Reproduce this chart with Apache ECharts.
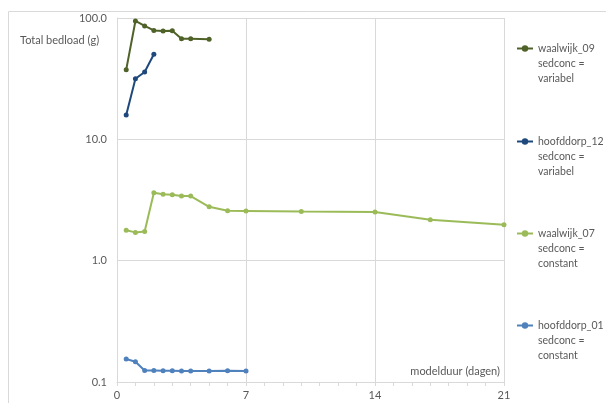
<!DOCTYPE html>
<html>
<head>
<meta charset="utf-8">
<script src="https://cdn.jsdelivr.net/npm/echarts@6/dist/echarts.min.js"></script>
<style>html,body{margin:0;padding:0;background:#fff;}#c{width:606px;height:403px;}</style>
</head>
<body>
<div id="c"></div>
<script>
const xTicks = [0, 7, 14, 21];
const yTicks = [0.1, 1, 10, 100];

const names = ['waalwijk_09\nsedconc =\nvariabel', 'hoofddorp_12\nsedconc =\nvariabel', 'waalwijk_07\nsedconc =\nconstant', 'hoofddorp_01\nsedconc =\nconstant'];

const w09Days = [0.5, 1, 1.5, 2, 2.5, 3, 3.5, 4, 5];
const w09Vals = [37.5, 94.5, 86, 79, 78, 78.5, 67.5, 67.5, 66.7];

const h12Days = [0.5, 1, 1.5, 2];
const h12Vals = [15.9, 31.6, 35.9, 50.2];

const w07Days = [0.5, 1, 1.5, 2, 2.5, 3, 3.5, 4, 5, 6, 7, 10, 14, 17, 21];
const w07Vals = [1.78, 1.71, 1.74, 3.63, 3.52, 3.49, 3.41, 3.41, 2.78, 2.58, 2.57, 2.54, 2.52, 2.17, 1.98];

const h01Days = [0.5, 1, 1.5, 2, 2.5, 3, 3.5, 4, 5, 6, 7];
const h01Vals = [0.1545, 0.147, 0.1245, 0.1245, 0.1237, 0.1237, 0.123, 0.123, 0.123, 0.124, 0.123];

const colors = ['#4F6228', '#1F497D', '#9BBB59', '#4F81BD'];
const FONT = 'Lato';
const TXT = '#595959';
const legendTops = [11, 104, 196, 288];

function pairs(xs, ys) { return xs.map((x, i) => [x, ys[i]]); }
const seriesData = [pairs(w09Days, w09Vals), pairs(h12Days, h12Vals), pairs(w07Days, w07Vals), pairs(h01Days, h01Vals)];

const chart = echarts.init(document.getElementById('c'), null, {renderer: 'canvas'});
chart.setOption({
  animation: false,
  color: colors,
  textStyle: {fontFamily: FONT, color: TXT},
  grid: {left: 117, right: 102, top: 18, bottom: 21, containLabel: false},
  xAxis: {
    type: 'value', min: xTicks[0], max: xTicks[xTicks.length - 1], interval: 7,
    axisLine: {show: true, lineStyle: {color: '#d9d9d9', width: 1}},
    axisTick: {show: true, length: 4, inside: false, lineStyle: {color: '#d9d9d9'}},
    minorTick: {show: true, splitNumber: 7, length: 4, lineStyle: {color: '#d9d9d9'}},
    splitLine: {show: true, lineStyle: {color: '#d9d9d9', width: 1}},
    axisLabel: {fontFamily: FONT, fontSize: 11, color: TXT, margin: 8}
  },
  yAxis: {
    type: 'log', logBase: 10, min: yTicks[0], max: yTicks[yTicks.length - 1],
    axisLine: {show: true, lineStyle: {color: '#d9d9d9', width: 1}},
    axisTick: {show: false},
    splitLine: {show: true, lineStyle: {color: '#d9d9d9', width: 1}},
    axisLabel: {fontFamily: FONT, fontSize: 11, color: TXT, margin: 10,
      formatter: v => Number(v).toFixed(1)}
  },
  legend: names.map((n, i) => ({
    orient: 'vertical', left: 516, top: legendTops[i], padding: 0,
    itemWidth: 16, itemHeight: 8,
    formatter: name => '\n\n' + name,
    textStyle: {fontFamily: FONT, fontSize: 10.5, color: TXT, lineHeight: 15},
    data: [n]
  })),
  graphic: [
    {type: 'rect', silent: true, shape: {x: 8.5, y: 11.5, width: 700, height: 500},
     style: {fill: 'none', stroke: '#d9d9d9', lineWidth: 1}, z: -1},
    {type: 'text', left: 20, top: 35, style: {text: 'Total bedload (g)', fill: TXT, font: '11px ' + FONT}},
    {type: 'text', right: 106, top: 366, style: {text: 'modelduur (dagen)', fill: TXT, font: '11px ' + FONT}}
  ],
  series: names.map((n, i) => ({
    name: n, type: 'line', data: seriesData[i],
    symbol: 'circle', symbolSize: 5, showSymbol: true,
    lineStyle: {width: 2, color: colors[i]},
    itemStyle: {color: colors[i]},
    z: 4 - i
  }))
});
</script>
</body>
</html>
